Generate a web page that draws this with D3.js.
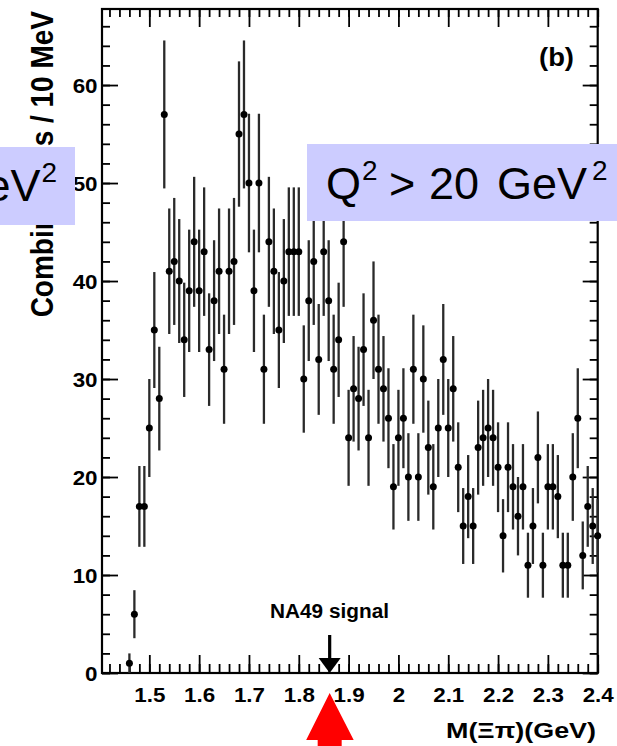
<!DOCTYPE html>
<html><head><meta charset="utf-8">
<script src="https://cdn.jsdelivr.net/npm/d3@7"></script>
<style>
html,body{margin:0;padding:0;background:#fff;overflow:hidden}
svg{display:block}
</style></head><body>
<svg id="chart" width="617" height="746"></svg>
<script>
// ---- data ----
const massBins = [1.46,1.47,1.48,1.49,1.50,1.51,1.52,1.53,1.54,1.55,
  1.56,1.57,1.58,1.59,1.60,1.61,1.62,1.63,1.64,1.65,
  1.66,1.67,1.68,1.69,1.70,1.71,1.72,1.73,1.74,1.75,
  1.76,1.77,1.78,1.79,1.80,1.81,1.82,1.83,1.84,1.85,
  1.86,1.87,1.88,1.89,1.90,1.91,1.92,1.93,1.94,1.95,
  1.96,1.97,1.98,1.99,2.00,2.01,2.02,2.03,2.04,2.05,
  2.06,2.07,2.08,2.09,2.10,2.11,2.12,2.13,2.14,2.15,
  2.16,2.17,2.18,2.19,2.20,2.21,2.22,2.23,2.24,2.25,
  2.26,2.27,2.28,2.29,2.30,2.31,2.32,2.33,2.34,2.35,
  2.36,2.37,2.38,2.39,2.40];
const counts = [1,6,17,17,25,35,28,57,41,42,
  40,34,39,44,39,43,33,38,41,31,
  41,42,55,57,50,39,50,31,44,41,
  35,40,43,43,43,30,38,42,32,43,
  38,31,34,44,24,29,28,33,24,36,
  31,29,26,19,24,26,20,31,20,30,
  23,19,25,32,25,29,21,15,18,15,
  23,24,25,24,21,14,21,19,16,19,
  11,15,22,11,19,19,18,11,11,20,
  26,12,17,15,14];
const xTickValues = [1.5,1.6,1.7,1.8,1.9,2.0,2.1,2.2,2.3,2.4];
const xTickLabels = ["1.5","1.6","1.7","1.8","1.9","2","2.1","2.2","2.3","2.4"];
const yTickValues = [0,10,20,30,40,50,60];
const yTickLabels = ["0","10","20","30","40","50","60"];
const na49Mass = 1.862;
const xTitle = "M(\u039E\u03C0)(GeV)";
const yTitle = "Combinations / 10 MeV";
const panelLabel = "(b)";
const signalLabel = "NA49 signal";

// ---- layout ----
const FONT = "'Liberation Sans', Arial, Helvetica, sans-serif";
const L = 102, R = 597.7, T = 9, B = 673;
const svg = d3.select("#chart");
const x = d3.scaleLinear().domain([1.405, 2.4]).range([L, R]);
const y = d3.scaleLinear().domain([0, 67.76]).range([B, T]);

const xMinor = d3.range(71, 121).map(i => i / 50);
const yMinor = d3.range(0, 68, 2);

function styleAxis(g) {
  g.select(".domain").remove();
  g.selectAll(".tick line").attr("stroke", "#000").attr("stroke-width", 1.8);
}

// bottom axis
svg.append("g").attr("transform", `translate(0,${B})`)
  .call(d3.axisBottom(x).tickValues(xMinor).tickSize(-9).tickFormat(""))
  .call(styleAxis);
const xb = svg.append("g").attr("transform", `translate(0,${B})`)
  .call(d3.axisBottom(x).tickValues(xTickValues).tickSize(-18).tickPadding(15)
    .tickFormat((d, i) => xTickLabels[i]))
  .call(styleAxis);
xb.selectAll("text").attr("fill", "#000").attr("font-size", 20).attr("font-weight", "bold")
  .attr("font-family", FONT).attr("transform", "scale(1.12,1)");

// top axis
svg.append("g").attr("transform", `translate(0,${T})`)
  .call(d3.axisTop(x).tickValues(xMinor).tickSize(-8).tickFormat(""))
  .call(styleAxis);
svg.append("g").attr("transform", `translate(0,${T})`)
  .call(d3.axisTop(x).tickValues(xTickValues).tickSize(-18).tickFormat(""))
  .call(styleAxis);

// left axis
svg.append("g").attr("transform", `translate(${L},0)`)
  .call(d3.axisLeft(y).tickValues(yMinor).tickSize(-8).tickFormat(""))
  .call(styleAxis);
const yl = svg.append("g").attr("transform", `translate(${L},0)`)
  .call(d3.axisLeft(y).tickValues(yTickValues).tickSize(-16).tickPadding(4)
    .tickFormat((d, i) => yTickLabels[i]))
  .call(styleAxis);
yl.selectAll("text").attr("fill", "#000").attr("font-size", 20).attr("font-weight", "bold")
  .attr("font-family", FONT).attr("dy", "0.38em").attr("transform", "scale(1.12,1)");

// right axis
svg.append("g").attr("transform", `translate(${R},0)`)
  .call(d3.axisRight(y).tickValues(yMinor).tickSize(-8).tickFormat(""))
  .call(styleAxis);
svg.append("g").attr("transform", `translate(${R},0)`)
  .call(d3.axisRight(y).tickValues(yTickValues).tickSize(-15).tickFormat(""))
  .call(styleAxis);

// frame
svg.append("rect").attr("x", L).attr("y", T).attr("width", R - L).attr("height", B - T)
  .attr("fill", "none").attr("stroke", "#000").attr("stroke-width", 2.2);

// data: error bars and markers
const pts = massBins.map((m, i) => ({ m, n: counts[i], e: Math.sqrt(counts[i]) }));
svg.append("g").selectAll("line").data(pts).join("line")
  .attr("x1", d => x(d.m)).attr("x2", d => x(d.m))
  .attr("y1", d => y(Math.max(0, d.n - d.e))).attr("y2", d => y(d.n + d.e))
  .attr("stroke", "#2a2a2a").attr("stroke-width", 2.3);
svg.append("g").selectAll("circle").data(pts).join("circle")
  .attr("cx", d => x(d.m)).attr("cy", d => y(d.n)).attr("r", 3.5).attr("fill", "#000");

// NA49 arrow and label
const ax = x(na49Mass);
svg.append("line").attr("x1", ax).attr("x2", ax).attr("y1", 635).attr("y2", 659)
  .attr("stroke", "#000").attr("stroke-width", 3.2);
svg.append("path").attr("d", `M${ax - 11},658 L${ax + 11},658 L${ax},${B} Z`).attr("fill", "#000");
svg.append("text").attr("x", 270).attr("y", 618).attr("font-family", FONT).attr("font-weight", "bold")
  .attr("font-size", 20).attr("textLength", 119).attr("lengthAdjust", "spacingAndGlyphs").text(signalLabel);

// panel label
svg.append("text").attr("x", 574).attr("y", 66).attr("text-anchor", "end").attr("font-family", FONT)
  .attr("font-weight", "bold").attr("font-size", 25).attr("textLength", 35)
  .attr("lengthAdjust", "spacingAndGlyphs").text(panelLabel);

// axis titles
svg.append("text").attr("transform", "translate(596,738)").attr("text-anchor", "end")
  .attr("font-family", FONT).attr("font-weight", "bold").attr("font-size", 22)
  .attr("textLength", 150).attr("lengthAdjust", "spacingAndGlyphs").text(xTitle);
svg.append("text").attr("transform", "translate(53,11) scale(1.13,1) rotate(-90)")
  .attr("text-anchor", "end").attr("font-family", FONT).attr("font-weight", "bold")
  .attr("font-size", 28).text(yTitle);

// overlay boxes
const BOX = "#ccccff";
svg.append("rect").attr("x", 0).attr("y", 147).attr("width", 75).attr("height", 78).attr("fill", BOX);
svg.append("rect").attr("x", 307).attr("y", 144).attr("width", 310).attr("height", 77).attr("fill", BOX);
svg.append("text").attr("x", 40.5).attr("y", 201).attr("text-anchor", "end")
  .attr("font-family", FONT).attr("font-size", 45).attr("fill", "#000").text("GeV");
svg.append("text").attr("x", 41.5).attr("y", 182)
  .attr("font-family", FONT).attr("font-size", 28).attr("fill", "#000").text("2");
const q = svg.append("text").attr("y", 199).attr("font-family", FONT).attr("font-size", 45).attr("fill", "#000");
q.append("tspan").attr("x", 326).text("Q");
q.append("tspan").attr("x", 362).attr("y", 180).attr("font-size", 28).text("2");
q.append("tspan").attr("x", 389).attr("y", 199).text(">");
q.append("tspan").attr("x", 429).text("20");
q.append("tspan").attr("x", 497).text("GeV");
q.append("tspan").attr("x", 592).attr("y", 180).attr("font-size", 28).text("2");

// red arrow
svg.append("path")
  .attr("d", `M${ax},693 L${ax + 24},740 L${ax + 12},740 L${ax + 12},746 L${ax - 12},746 L${ax - 12},740 L${ax - 23.5},740 Z`)
  .attr("fill", "#ff0000");
</script>
</body></html>
